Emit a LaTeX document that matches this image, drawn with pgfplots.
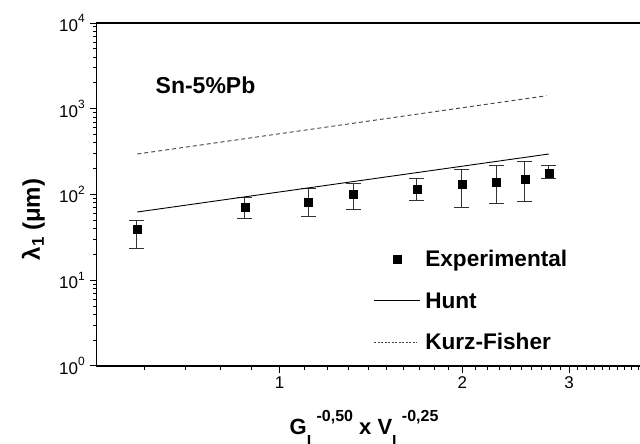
\documentclass[border=0pt]{standalone}
\usepackage{fontspec}
\setmainfont{Liberation Sans}
\usepackage{pgfplots}
\pgfplotsset{compat=1.18}
\usepackage{pgfplotstable}

\pgfplotstableread{
x     y      ep    em
0.582 39.3   11.1  16.0
0.877 70.2   22.5  17.5
1.116 82.4   35.6  26.3
1.323 101.3  33.7  34.1
1.683 115.9  37.1  31.2
1.997 131.5  63.1  60.5
2.277 139.9  80.8  61.0
2.535 152.8  88.8  70.4
2.777 176.6  40.2  23.8
}\expdata

\pgfplotstableread{
x     y
0.583 62.5
2.777 296.6
}\hunt

\pgfplotstableread{
x     y
0.583 296.6
2.755 1419
}\kurz

\pgfplotsset{
  expleg/.style={legend image code/.code={\draw[mark repeat=2,mark phase=2,##1] plot coordinates {(0pt,0pt) (23pt,0pt) (46pt,0pt)};}},
  lineleg/.style={legend image code/.code={\draw[##1] (0pt,0pt) -- (46pt,0pt);}},
  dashleg/.style={legend image code/.code={\draw[##1, dash pattern=on 2pt off 1.5pt] (0pt,0pt) -- (43pt,0pt);}},
}

\newcommand\ex[1]{\raisebox{0.5em}{\fontsize{12}{12}\selectfont #1}}
\newcommand\lsub[1]{\raisebox{-12pt}{\fontsize{16}{16}\selectfont\bfseries #1}}
\newcommand\lsup[1]{\raisebox{12.6pt}{\fontsize{16}{16}\selectfont\bfseries #1}}

\begin{document}
\begin{tikzpicture}
\begin{axis}[
  scale only axis, width=607pt, height=343pt,
  xmode=log, ymode=log,
  xmin=0.5, xmax=5, ymin=1, ymax=10000,
  axis line style={line width=1.2pt},
  tick style={line width=1pt, black},
  tick align=outside, xtick pos=bottom, ytick pos=left,
  major tick length=7pt, minor tick length=4pt,
  xtick={1,2,3,4}, xticklabels={1,2,3,4},
  minor xtick={0.6,0.7,0.8,0.9,1.1,1.2,1.3,1.4,1.5,1.6,1.7,1.8,1.9,2.1,2.2,2.3,2.4,2.5,2.6,2.7,2.8,2.9,3.1,3.2,3.3,3.4,3.5,3.6,3.7,3.8,3.9,4.1,4.2,4.3,4.4,4.5,4.6,4.7,4.8,4.9},
  ytick={1,10,100,1000,10000},
  yticklabels={10\ex{0},10\ex{1},10\ex{2},10\ex{3},10\ex{4}},
  minor ytick={2,3,4,5,6,7,8,9,20,30,40,50,60,70,80,90,200,300,400,500,600,700,800,900,2000,3000,4000,5000,6000,7000,8000,9000},
  ticklabel style={font=\fontsize{17}{20}\selectfont},
  yticklabel style={xshift=-1.5pt},
  xlabel={\fontsize{22}{26}\selectfont\bfseries G\lsub{L}\lsup{-0,50} x V\lsub{L}\lsup{-0,25}},
  xlabel style={at={(axis description cs:0.3175,0)}, yshift=-68.3pt, anchor=base west, inner sep=0pt},
  ylabel={\fontsize{24}{28}\selectfont\bfseries λ\raisebox{-4pt}{\fontsize{17}{17}\selectfont 1} (μm)},
  ylabel style={at={(axis description cs:-0.0936,0.4271)}, anchor=base, inner sep=0pt},
  legend style={at={(axis description cs:0.4567,0.347)}, anchor=north west,
    draw=none, fill=none, inner sep=0pt, outer sep=0pt,
    row sep=16.9pt, column sep=4.4pt,
    font=\fontsize{22.6}{27}\selectfont\bfseries,
    nodes={inner sep=0pt, text height=20pt, text depth=4.6pt}},
  legend cell align=left,
]
\addplot[black, only marks, mark=square*, mark size=4pt, expleg,
  error bars/.cd, y dir=both, y explicit,
  error bar style={line width=0.9pt, black!80},
  error mark options={rotate=90, mark size=7.5pt, line width=0.9pt, black!80}]
  table[x=x, y=y, y error plus=ep, y error minus=em] {\expdata};
\addlegendentry{Experimental}
\addplot[black, line width=0.9pt, lineleg]
  table[x=x, y=y] {\hunt};
\addlegendentry{Hunt}
\addplot[black!75, line width=0.9pt, dash pattern=on 4pt off 3pt, dashleg]
  table[x=x, y=y] {\kurz};
\addlegendentry{Kurz-Fisher}
\node[anchor=base west, inner sep=0pt, font=\fontsize{23}{27}\selectfont\bfseries] at (axis description cs:0.0967,0.795) {Sn-5\%Pb};
\end{axis}
\pgfresetboundingbox
\path[use as bounding box] (-96.8pt,-78pt) rectangle (543.2pt,366pt);
\end{tikzpicture}
\end{document}
